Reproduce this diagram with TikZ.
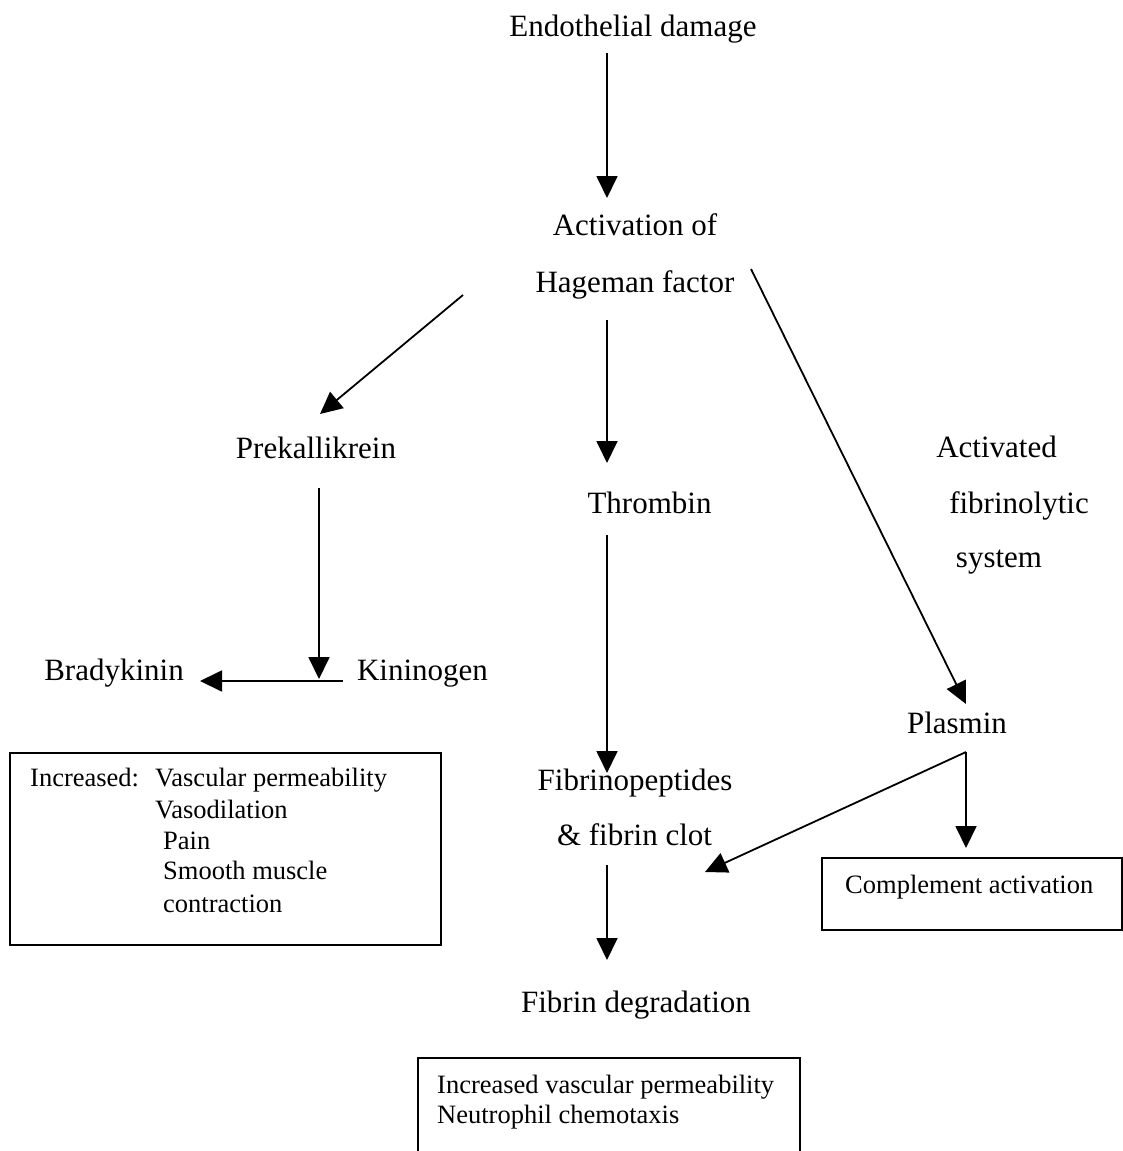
\documentclass[tikz,border=0pt]{standalone}
\usepackage{fontspec}
\setmainfont{Liberation Serif}
\usetikzlibrary{arrows.meta}
\tikzset{
  lbl/.style={anchor=base, inner sep=0pt, font=\fontsize{31}{37}\selectfont},
  boxtxt/.style={anchor=base west, inner sep=0pt, font=\fontsize{26.5}{31}\selectfont},
  conn/.style={line width=1.8pt, -{Triangle[width=21pt,length=22pt]}},
  plain/.style={line width=1.8pt},
  frame/.style={draw, line width=1.6pt, inner sep=0pt}
}
\begin{document}
\begin{tikzpicture}[x=1pt,y=-1pt]
\useasboundingbox (0,0) rectangle (1123,1151);
% labels
\node[lbl] (endo) at (633,36) {Endothelial damage};
\node[lbl] (act1) at (635,235) {Activation of};
\node[lbl] (act2) at (635,292) {Hageman factor};
\node[lbl] (prek) at (316,458) {Prekallikrein};
\node[lbl] (thro) at (649.5,513) {Thrombin};
\node[lbl] (fib1) at (996.5,457) {Activated};
\node[lbl] (fib2) at (1019,513) {fibrinolytic};
\node[lbl] (fib3) at (999,567) {system};
\node[lbl] (brady) at (114,680) {Bradykinin};
\node[lbl] (kinin) at (422.5,680) {Kininogen};
\node[lbl] (plas) at (957,733) {Plasmin};
\node[lbl] (fp1) at (635,790) {Fibrinopeptides};
\node[lbl] (fp2) at (634.5,845) {\& fibrin clot};
\node[lbl] (fdeg) at (636,1012) {Fibrin degradation};
% boxes
\node[frame, minimum width=431pt, minimum height=192pt] (lbox) at (225.5,849) {};
\node[boxtxt] (l1a) at (30,786) {Increased:};
\node[boxtxt] (l1b) at (155,786) {Vascular permeability};
\node[boxtxt] (l2) at (155,818) {Vasodilation};
\node[boxtxt] (l3) at (163,849) {Pain};
\node[boxtxt] (l4) at (163,879) {Smooth muscle};
\node[boxtxt] (l5) at (163,912) {contraction};
\node[frame, minimum width=300pt, minimum height=72pt] (cbox) at (972,894) {};
\node[boxtxt] (comp) at (845,893) {Complement activation};
\node[frame, minimum width=382pt, minimum height=130pt] (bbox) at (609,1123) {};
\node[boxtxt] (b1) at (437,1093) {Increased vascular permeability};
\node[boxtxt] (b2) at (437,1123) {Neutrophil chemotaxis};
% connector end points
\coordinate (e0) at (607,53);   \coordinate (e1) at (607,198);
\coordinate (h0) at (463,295);  \coordinate (h1) at (320,414);
\coordinate (c0) at (607,320);  \coordinate (c1) at (607,463);
\coordinate (r0) at (751,269);  \coordinate (r1) at (966,704);
\coordinate (p0) at (319,488);  \coordinate (p1) at (319,679);
\coordinate (k0) at (343,681);  \coordinate (k1) at (200,681);
\coordinate (t0) at (607,535);  \coordinate (t1) at (607,773);
\coordinate (f0) at (607,865);  \coordinate (f1) at (607,960);
\coordinate (s0) at (966,752);  \coordinate (s1) at (966,848);
\coordinate (s2) at (705,872);
% connectors
\draw[conn] (e0) -- (e1);
\draw[conn] (h0) -- (h1);
\draw[conn] (c0) -- (c1);
\draw[conn] (r0) -- (r1);
\draw[conn] (p0) -- (p1);
\draw[conn] (k0) -- (k1);
\draw[conn] (t0) -- (t1);
\draw[conn] (f0) -- (f1);
\draw[conn] (s0) -- (s1);
\draw[conn] (s0) -- (s2);
\end{tikzpicture}
\end{document}
